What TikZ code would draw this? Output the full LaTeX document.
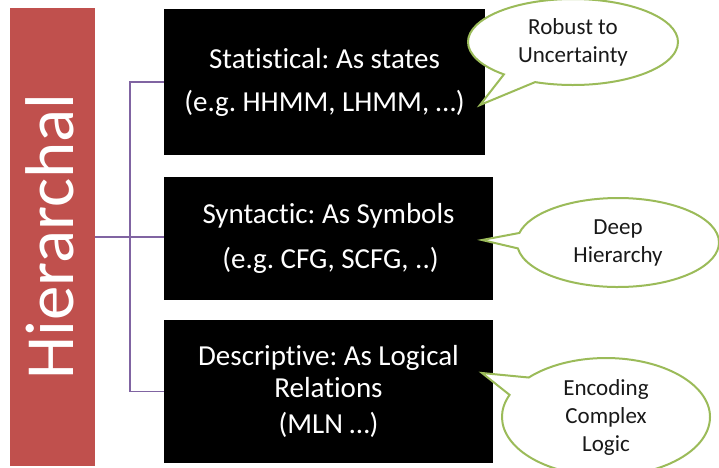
\documentclass[tikz,border=0pt]{standalone}
\usepackage{fontspec}
\setmainfont{Carlito}[Ligatures=NoCommon]
\usetikzlibrary{shapes.callouts}
\definecolor{hred}{HTML}{C0504D}
\definecolor{hpurple}{HTML}{8064A2}
\definecolor{hgreen}{HTML}{9BBB59}
\tikzset{
  blackbox/.style={fill=black, text=white, inner sep=0pt, align=center},
  conn/.style={draw=hpurple, line width=1.5pt},
  bubble/.style={ellipse callout, draw=hgreen, line width=2pt, fill=white, text=black!90,
    inner sep=0pt, align=center, callout pointer arc=20,
    font=\fontsize{23}{28}\selectfont},
}
\begin{document}
\frenchspacing
\begin{tikzpicture}[x=1pt,y=-1pt]
\useasboundingbox (0,0) rectangle (719,467);
% red title bar
\node[fill=hred, minimum width=85pt, minimum height=458pt, inner sep=0pt] (h) at (52.5,237) {};
\node[text=white, rotate=90, anchor=base, font=\fontsize{69}{69}\selectfont, inner sep=0pt] (ht) at (73,236.5) {Hierarchal};
% boxes
\node[blackbox, minimum width=321pt, minimum height=146pt, font=\fontsize{29}{43}\selectfont] (b1) at (324.5,82)
  {Statistical: As states\\(e.g. HHMM, LHMM, …)};
\node[blackbox, minimum width=329pt, minimum height=123pt, font=\fontsize{29}{45}\selectfont] (b2) at (328.5,238.5)
  {Syntactic: As Symbols\\\hspace*{4pt}(e.g. CFG, SCFG, ..)};
\node[blackbox, minimum width=329pt, minimum height=143pt, font=\fontsize{29}{32}\selectfont] (b3) at (328.5,391.5)
  {Descriptive: As Logical\\Relations\\[4pt](MLN …)};
% connectors
\coordinate (j) at (130,237);
\draw[conn] (h.east) -- (j) -- (j -| b2.west);
\draw[conn] (b1.west) -| (j) |- (b3.west);
% callouts
\node[bubble, minimum width=210pt, minimum height=86pt, callout absolute pointer={(480,105)}] (c1) at (573,42)
  {Robust to\\Uncertainty};
\node[bubble, minimum width=202pt, minimum height=89pt, callout absolute pointer={(482,240)}] (c2) at (618,242.5)
  {Deep\\Hierarchy};
\node[bubble, minimum width=208pt, minimum height=118pt, callout absolute pointer={(482,373)}] (c3) at (606,417)
  {Encoding\\Complex\\Logic};
\end{tikzpicture}
\end{document}
